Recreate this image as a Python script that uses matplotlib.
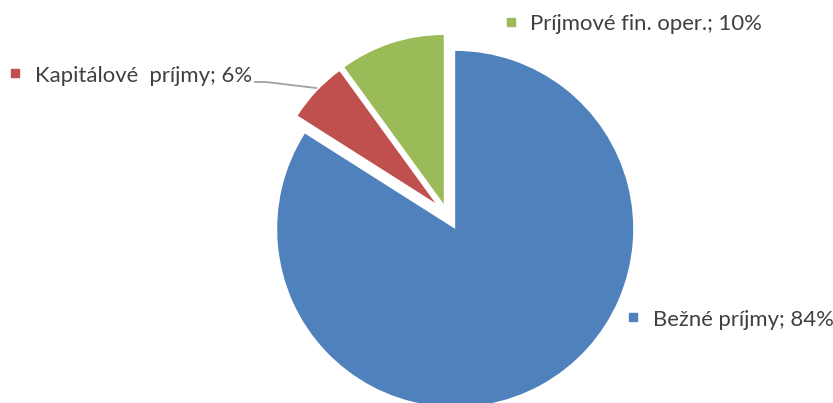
import matplotlib
matplotlib.use("Agg")
import matplotlib.pyplot as plt

categories = ["Bežné príjmy", "Kapitálové  príjmy", "Príjmové fin. oper."]
values = [84, 6, 10]
colors = ["#4F81BD", "#C0504D", "#9BBB59"]

H = 403
fig = plt.figure(figsize=(8.33, 4.03), dpi=100)
ax = fig.add_axes([0, 0, 1, 1])
ax.axis("off")

# explode is in data units (pixels here)
wedges, _ = ax.pie(values, colors=colors, startangle=90, counterclock=False,
                   center=(447, 189), radius=178, explode=[17, 16, 10.5],
                   wedgeprops=dict(linewidth=0))
for w, r in zip(wedges, [178, 163, 169]):
    w.set_radius(r)
ax.set_xlim(0, 833)
ax.set_ylim(0, H)
ax.set_aspect("equal")

txt_color = "#404040"
label_pos = [(653, H - 326), (35, H - 82), (530, H - 30)]
marker_pos = [(633, H - 317), (15, H - 73), (511, H - 22)]
for cat, v, c, (tx, ty), (mx, my) in zip(categories, values, colors, label_pos, marker_pos):
    ax.plot([mx], [my], marker="s", markersize=6, color=c, linestyle="none")
    ax.text(tx, ty, f"{cat}; {v}%", fontsize=15.9, family="Lato", color=txt_color,
            va="baseline", ha="left")

# leader line for small slice
ax.plot([255, 266, 316], [H - 82, H - 82, H - 88], color="#A0A0A0", linewidth=1.3)

fig.savefig("out.png", dpi=100)
